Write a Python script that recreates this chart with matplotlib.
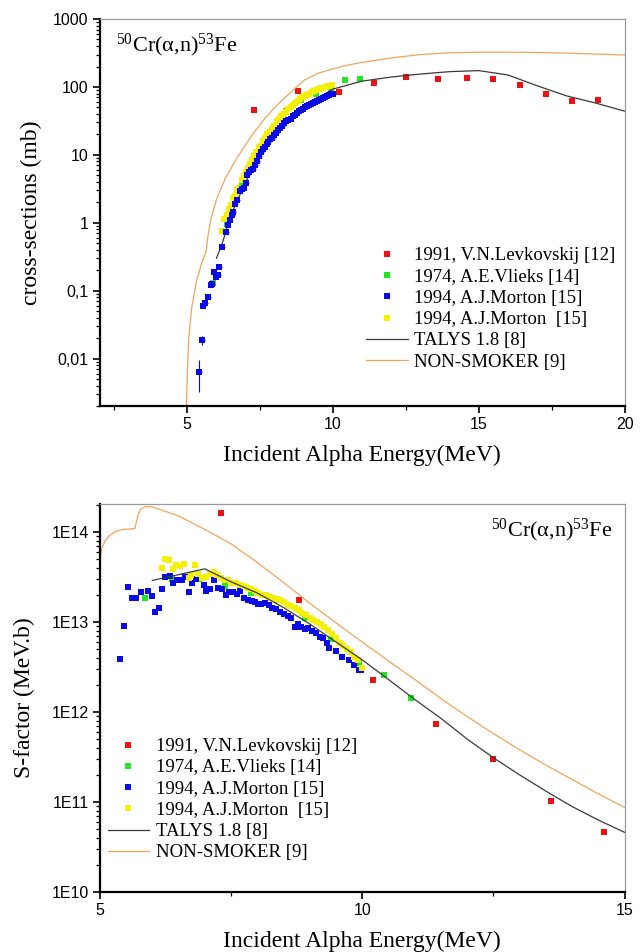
import matplotlib
matplotlib.use("Agg")
import matplotlib.pyplot as plt
from matplotlib.lines import Line2D
from matplotlib.ticker import LogLocator, NullFormatter

plt.rcParams["font.family"] = ["Liberation Serif", "DejaVu Serif"]
plt.rcParams["mathtext.fontset"] = "custom"
plt.rcParams["mathtext.rm"] = "Liberation Serif"

# ---------------- cross-section panel (mb) ----------------
lev_e = [7.3, 8.8, 10.2, 11.4, 12.5, 13.6, 14.6, 15.5, 16.4, 17.3, 18.2, 19.1]
lev_xs = [46, 86, 84, 114, 142, 131, 134, 131, 107, 80, 62, 65]

vli_e = [5.87, 6.37, 6.89, 7.38, 7.88, 8.40, 8.91, 9.41, 9.93, 10.41, 10.92]
vli_xs = [0.13, 0.95, 3.5, 8.5, 20, 44, 64, 80, 96, 127, 131]

mor1_e = [5.41, 5.49, 5.55, 5.60, 5.72, 5.80, 5.84, 5.92, 5.97, 6.04, 6.10, 6.19,
          6.33, 6.38, 6.45, 6.52, 6.58, 6.65, 6.72, 6.80, 6.86, 6.93, 7.00, 7.06,
          7.12, 7.18, 7.25, 7.31, 7.38, 7.45, 7.52, 7.58, 7.65, 7.72, 7.78, 7.85,
          7.92, 7.98, 8.05, 8.12, 8.19, 8.26, 8.33, 8.40, 8.47, 8.54, 8.61, 8.68,
          8.75, 8.82, 8.89, 8.96, 9.03, 9.10, 9.17, 9.24, 9.31, 9.38, 9.45, 9.52,
          9.59, 9.66, 9.73, 9.80, 9.87, 9.94, 10.0]
mor1_xs = [0.0064, 0.0186, 0.060, 0.065, 0.081, 0.12, 0.125, 0.19, 0.16, 0.168, 0.22, 0.44,
           0.73, 0.93, 1.1, 1.3, 1.45, 1.9, 2.2, 2.9, 3.1, 3.3, 3.9, 5.0,
           5.6, 5.9, 6.2, 7.0, 8.0, 9.5, 11, 12, 13, 14.5, 15.5, 17,
           18, 19.5, 21, 23, 25, 27, 29, 31, 33, 34, 37, 39,
           41, 44, 46, 48, 50, 53, 55, 57, 59, 61, 62, 65,
           67, 69, 71, 74, 76, 79, 80]
mor1_err_lo = [0.0032, 0.0028]
mor1_err_hi = [0.0032, 0.0030]

mor2_e = [6.19, 6.27, 6.35, 6.42, 6.50, 6.57, 6.64, 6.71, 6.78, 6.86, 6.93, 7.01,
          7.08, 7.15, 7.22, 7.30, 7.37, 7.45, 7.52, 7.60, 7.68, 7.75, 7.83, 7.90,
          7.98, 8.06, 8.14, 8.22, 8.30, 8.38, 8.46, 8.54, 8.62, 8.70, 8.78, 8.86,
          8.94, 9.02, 9.10, 9.18, 9.26, 9.34, 9.42, 9.50, 9.58, 9.66, 9.74, 9.82,
          9.90, 9.97]
mor2_xs = [0.76, 1.15, 1.3, 1.6, 1.85, 2.3, 2.5, 3.0, 3.3, 4.2, 4.9, 5.6,
           6.5, 7.4, 8.3, 9.6, 11, 12.5, 13.7, 16, 18, 20, 22, 24,
           27, 31, 34, 37, 40, 43, 47, 51, 55, 58, 62, 66,
           70, 73, 77, 80, 83, 86, 89, 92, 95, 97, 100, 102,
           104, 106]

talys_e = [6.0, 6.2, 6.5, 7.0, 7.5, 8.0, 8.5, 9.0, 9.5, 10.0, 11.0, 12.0, 13.0,
           14.0, 15.0, 16.0, 17.0, 18.0, 19.0, 20.0]
talys_xs = [0.3, 0.5, 1.3, 4.0, 10, 20, 34, 50, 70, 93, 122, 140, 155,
            168, 174, 150, 104, 74, 58, 44]

nons_e = [4.97, 5.0, 5.05, 5.15, 5.3, 5.5, 5.65, 5.7, 5.8, 6.0, 6.3, 6.7, 7.2,
          7.6, 8.0, 8.5, 9.0, 9.5, 10.0, 10.5, 11.0, 12.0, 13.0, 14.0, 15.0,
          16.0, 17.0, 18.0, 19.0, 20.0]
nons_xs = [0.002, 0.006, 0.02, 0.055, 0.13, 0.26, 0.38, 0.6, 1.1, 2.2, 4.5, 9.0, 19,
           32, 50, 80, 125, 160, 185, 210, 230, 268, 300, 318, 325,
           325, 322, 315, 305, 295]

# ---------------- S-factor panel (MeV.b) ----------------
lev_s_e = [7.3, 8.8, 10.2, 11.4, 12.5, 13.6, 14.6]
lev_s = [1.63e14, 1.78e13, 2.27e12, 7.3e11, 2.98e11, 1.02e11, 4.7e10]

vli_s = [1.87e13, 3.0e13, 3.0e13, 2.53e13, 2.1e13, 1.74e13, 1.12e13, 6.4e12,
         3.5e12, 2.57e12, 1.44e12]

mor1_s_e = [5.39, 5.46, 5.54, 5.62, 5.69, 5.78, 5.92, 5.99, 6.05, 6.13, 6.19, 6.25,
            6.33, 6.39, 6.48, 6.56, 6.62, 6.69, 6.75, 6.83, 6.98, 7.02, 7.10, 7.18,
            7.25, 7.33, 7.40, 7.46, 7.53, 7.61, 7.67, 7.75, 7.83, 7.89, 7.96, 8.02,
            8.08, 8.15, 8.22, 8.29, 8.36, 8.43, 8.51, 8.59, 8.65, 8.71, 8.77, 8.84,
            8.91, 8.97, 9.05, 9.12, 9.19, 9.26, 9.32, 9.37, 9.50, 9.62, 9.75, 9.85,
            9.93, 9.97]
mor1_s = [3.9e12, 9.1e12, 2.46e13, 1.83e13, 1.87e13, 2.17e13, 2.23e13, 1.94e13, 1.3e13,
          1.44e13, 2.3e13, 3.2e13, 3.25e13, 2.7e13, 2.9e13, 2.9e13, 3.2e13, 2.17e13,
          2.7e13, 3.0e13, 2.57e13, 2.2e13, 2.3e13, 2.93e13, 2.4e13, 2.3e13, 2.0e13,
          2.17e13, 2.17e13, 2.05e13, 2.2e13, 1.83e13, 1.78e13, 1.72e13, 1.67e13,
          1.57e13, 1.6e13, 1.64e13, 1.55e13, 1.45e13, 1.38e13, 1.3e13, 1.24e13,
          1.17e13, 1.12e13, 8.9e12, 9.5e12, 8.9e12, 8.4e12, 8.6e12, 7.9e12, 7.6e12,
          6.9e12, 6.6e12, 5.9e12, 5.1e12, 4.8e12, 4.1e12, 3.8e12, 3.3e12, 2.9e12,
          2.95e12]

mor2_s_e = [6.18, 6.25, 6.31, 6.39, 6.46, 6.53, 6.60, 6.69, 6.74, 6.81, 6.88, 6.95,
            7.02, 7.10, 7.17, 7.24, 7.31, 7.38, 7.45, 7.52, 7.60, 7.67, 7.74, 7.81,
            7.88, 7.95, 8.02, 8.09, 8.16, 8.23, 8.30, 8.37, 8.44, 8.51, 8.58, 8.65,
            8.72, 8.79, 8.86, 8.93, 9.00, 9.07, 9.14, 9.21, 9.28, 9.35, 9.42, 9.50,
            9.57, 9.64, 9.71, 9.78, 9.85, 9.92, 10.0]
mor2_s = [4.0e13, 5.0e13, 4.9e13, 3.9e13, 4.3e13, 4.2e13, 4.4e13, 3.06e13, 3.3e13,
          4.3e13, 3.4e13, 3.1e13, 3.2e13, 3.4e13, 3.6e13, 3.3e13, 3.1e13, 2.9e13,
          2.9e13, 2.7e13, 2.7e13, 2.6e13, 2.5e13, 2.4e13, 2.3e13, 2.2e13, 2.1e13,
          2.0e13, 2.0e13, 1.9e13, 1.85e13, 1.8e13, 1.75e13, 1.65e13, 1.55e13, 1.5e13,
          1.45e13, 1.35e13, 1.25e13, 1.2e13, 1.1e13, 1.05e13, 1.0e13, 9.5e12, 8.8e12,
          8.2e12, 7.4e12, 6.6e12, 5.9e12, 5.4e12, 5.0e12, 4.6e12, 4.1e12, 3.8e12,
          3.1e12]

talys_s_e = [6.0, 7.0, 7.5, 8.0, 8.5, 9.0, 9.5, 10.0, 10.5, 11.0, 11.5, 12.0, 12.5,
             13.0, 13.5, 14.0, 14.5, 15.0]
talys_s = [2.9e13, 3.9e13, 2.8e13, 2.1e13, 1.45e13, 9.5e12, 6.0e12, 3.8e12, 2.3e12,
           1.38e12, 8.5e11, 5.0e11, 3.1e11, 2.0e11, 1.32e11, 8.9e10, 6.3e10, 4.6e10]

nons_s_e = [5.0, 5.04, 5.1, 5.17, 5.3, 5.45, 5.6, 5.67, 5.72, 5.78, 5.87, 6.0, 6.25,
            6.5, 7.0, 7.5, 8.0, 8.5, 9.0, 9.5, 10.0, 10.5, 11.0, 11.5, 12.0, 12.5,
            13.0, 13.5, 14.0, 14.5, 15.0]
nons_s = [4.9e13, 6.6e13, 8.0e13, 9.0e13, 1.02e14, 1.07e14, 1.08e14, 1.1e14, 1.5e14,
          1.8e14, 1.92e14, 1.9e14, 1.7e14, 1.51e14, 1.07e14, 7.4e13, 4.6e13, 2.75e13,
          1.62e13, 9.8e12, 6.0e12, 3.7e12, 2.3e12, 1.41e12, 8.9e11, 5.75e11, 3.8e11,
          2.57e11, 1.78e11, 1.23e11, 8.7e10]

labels = ["1991, V.N.Levkovskij [12]", "1974, A.E.Vlieks [14]", "1994, A.J.Morton [15]",
          "1994, A.J.Morton  [15]", "TALYS 1.8 [8]", "NON-SMOKER [9]"]

RED, GREEN, BLUE, YELLOW = "#ee1111", "#22e622", "#0a0ae6", "#f5f000"
TALYS_C, NONS_C = "#3a3a3a", "#eea55a"
MS = 3.9
reaction = r"$\mathregular{^{50}}$Cr(α,n)$\mathregular{^{53}}$Fe"


def style_axes(ax):
    for side in ("left", "bottom"):
        ax.spines[side].set_linewidth(1.6)
        ax.spines[side].set_color("black")
    for side in ("top", "right"):
        ax.spines[side].set_linewidth(0.9)
        ax.spines[side].set_color("#9a9a9a")
    ax.tick_params(which="major", direction="out", length=5, width=1.2,
                   labelsize=11.5, labelfontfamily="Liberation Sans", pad=3,
                   top=False, right=False)
    ax.tick_params(which="minor", direction="out", length=3, width=0.9,
                   top=False, right=False)


def legend_handles():
    sq = dict(marker="s", linestyle="none", markersize=MS, markeredgewidth=0)
    return [Line2D([], [], color=RED, **sq), Line2D([], [], color=GREEN, **sq),
            Line2D([], [], color=BLUE, **sq), Line2D([], [], color=YELLOW, **sq),
            Line2D([], [], color=TALYS_C, lw=0.9), Line2D([], [], color=NONS_C, lw=0.9)]


fig = plt.figure(figsize=(6.44, 9.52), dpi=100)
ax1 = fig.add_axes([0.155, 0.5735, 0.815, 0.4065])
ax2 = fig.add_axes([0.155, 0.063, 0.815, 0.4076])

pt = dict(marker="s", linestyle="none", markersize=MS, markeredgewidth=0)

# top: cross sections
ax1.plot(lev_e, lev_xs, color=RED, **pt)
ax1.plot(vli_e, vli_xs, color=GREEN, **pt)
yerr_lo = mor1_err_lo + [0] * (len(mor1_xs) - 2)
yerr_hi = mor1_err_hi + [0] * (len(mor1_xs) - 2)
ax1.errorbar(mor1_e, mor1_xs, xerr=0.1, yerr=[yerr_lo, yerr_hi], color=BLUE,
             ecolor=BLUE, elinewidth=0.8, capsize=3, capthick=0.8, **pt)
ax1.plot(mor2_e, mor2_xs, color=YELLOW, **pt)
ax1.plot(talys_e, talys_xs, color=TALYS_C, lw=0.9)
ax1.plot(nons_e, nons_xs, color=NONS_C, lw=0.9)

ax1.set_yscale("log")
ax1.set_xlim(2, 20)
ax1.set_ylim(0.002, 1000)
ax1.set_xticks([5, 10, 15, 20])
ax1.set_xticks([2.5, 7.5, 12.5, 17.5], minor=True)
ax1.set_yticks([0.01, 0.1, 1, 10, 100, 1000], ["0,01", "0,1", "1", "10", "100", "1000"])
ax1.yaxis.set_minor_locator(LogLocator(base=10, subs=range(2, 10), numticks=20))
ax1.yaxis.set_minor_formatter(NullFormatter())
style_axes(ax1)
ax1.set_xlabel("Incident Alpha Energy(MeV)", fontsize=17, labelpad=9)
ax1.set_ylabel("cross-sections (mb)", fontsize=17, labelpad=8)
ax1.text(0.03, 0.933, reaction, transform=ax1.transAxes, fontsize=16,
         ha="left", va="center")
ax1.legend(legend_handles(), labels, loc="upper left", bbox_to_anchor=(0.508, 0.41),
           frameon=False, fontsize=13.5, handlelength=2.2, handletextpad=0.35,
           labelspacing=0.22, borderpad=0, borderaxespad=0)

# bottom: S-factor
ax2.plot(lev_s_e, lev_s, color=RED, **pt)
ax2.plot(vli_e, vli_s, color=GREEN, **pt)
ax2.plot(mor1_s_e, mor1_s, color=BLUE, **pt)
ax2.plot(mor2_s_e, mor2_s, color=YELLOW, **pt)
ax2.plot(talys_s_e, talys_s, color=TALYS_C, lw=0.9)
ax2.plot(nons_s_e, nons_s, color=NONS_C, lw=0.9)

ax2.set_yscale("log")
ax2.set_xlim(5, 15)
ax2.set_ylim(1e10, 2.05e14)
ax2.set_xticks([5, 10, 15])
ax2.set_xticks([7.5, 12.5], minor=True)
ax2.set_yticks([1e10, 1e11, 1e12, 1e13, 1e14], ["1E10", "1E11", "1E12", "1E13", "1E14"])
ax2.yaxis.set_minor_locator(LogLocator(base=10, subs=range(2, 10), numticks=20))
ax2.yaxis.set_minor_formatter(NullFormatter())
style_axes(ax2)
ax2.set_xlabel("Incident Alpha Energy(MeV)", fontsize=17, labelpad=9)
ax2.set_ylabel("S-factor (MeV.b)", fontsize=17, labelpad=12)
ax2.text(0.977, 0.933, reaction, transform=ax2.transAxes, fontsize=16,
         ha="right", va="center")
ax2.legend(legend_handles(), labels, loc="upper left", bbox_to_anchor=(0.015, 0.397),
           frameon=False, fontsize=13.5, handlelength=2.2, handletextpad=0.35,
           labelspacing=0.22, borderpad=0, borderaxespad=0)

fig.savefig("out.png", dpi=100)
plt.close(fig)
